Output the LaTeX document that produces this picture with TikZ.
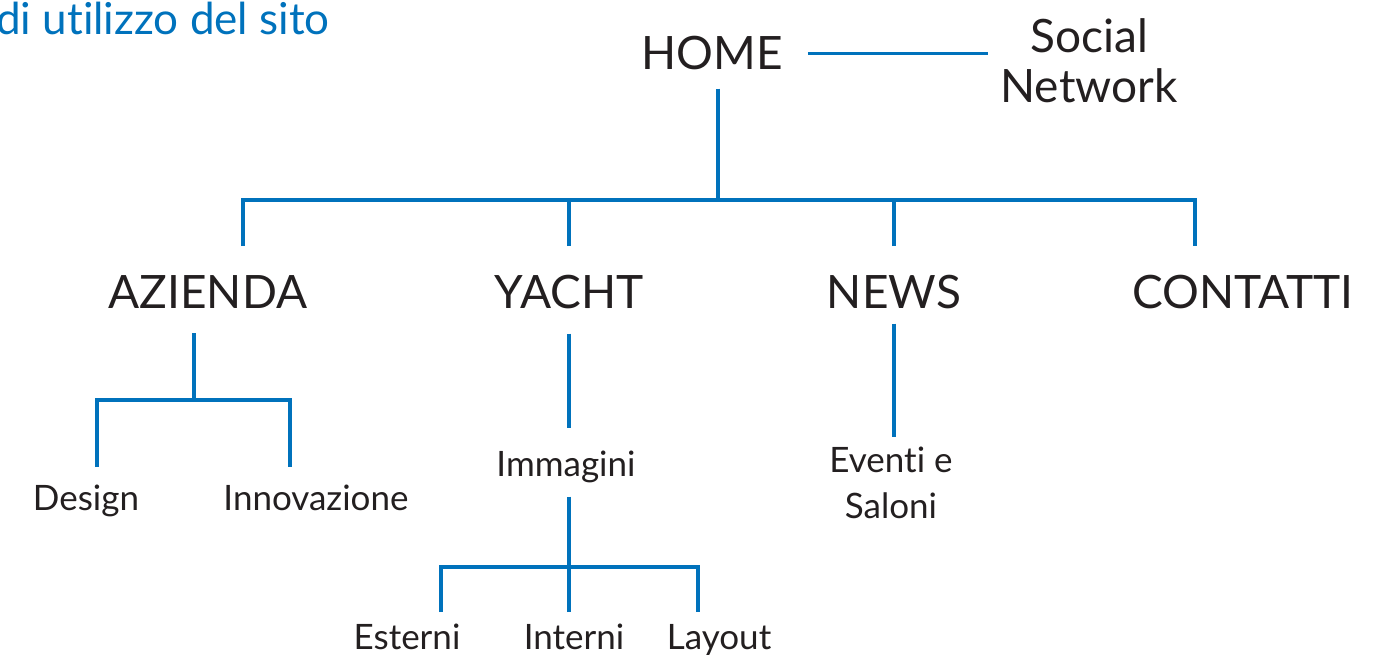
\documentclass[tikz,border=0pt]{standalone}
\usepackage{fontspec}
\setmainfont{Lato}[Ligatures={NoCommon,NoContextual}]
\definecolor{lk}{RGB}{0,114,188}
\definecolor{tx}{RGB}{35,31,32}
\begin{document}
\begin{tikzpicture}[x=1pt,y=-1pt,
  link/.style={draw=lk,line width=3.2pt},
  big/.style={text=tx,font=\fontsize{46}{49}\selectfont,inner sep=0pt,anchor=base},
  small/.style={text=tx,font=\fontsize{35}{46}\selectfont,inner sep=0pt,anchor=base},
  ttl/.style={text=lk,font=\fontsize{44}{48}\selectfont,inner sep=0pt,anchor=base west}]
\useasboundingbox (0,0) rectangle (1392,669);
% texts
\node[ttl] (title) at (-4,35) {di utilizzo del sito};
\node[big] (home) at (712,70) {HOME};
\node[big,align=center] (social) at (1089,102) {Social\\Network};
\node[big] (azienda) at (208,308) {AZIENDA};
\node[big] (yacht) at (569,308) {YACHT};
\node[big] (news) at (894,308) {NEWS};
\node[big] (contatti) at (1243,308) {CONTATTI};
\node[small] (design) at (86,510) {Design};
\node[small] (innov) at (316,510) {Innovazione};
\node[small] (immagini) at (566,476) {Immagini};
\node[small] (esterni) at (407,649) {Esterni};
\node[small] (interni) at (574,649) {Interni};
\node[small] (layout) at (719,649) {Layout};
\node[small,align=center] (eventi) at (891,518) {Eventi e\\Saloni};
% junctions
\coordinate (bar) at (718,200);
\coordinate (dA) at (243,246);
\coordinate (dY) at (569,246);
\coordinate (dN) at (894,246);
\coordinate (dC) at (1195,246);
\coordinate (aj) at (194,400);
\coordinate (dD) at (97,467);
\coordinate (dI) at (290,467);
\coordinate (yi) at (569,428);
\coordinate (ij) at (569,567);
\coordinate (dE) at (441,612);
\coordinate (dIn) at (569,612);
\coordinate (dL) at (698,612);
\coordinate (ne) at (894,437);
% connectors
\draw[link] ([xshift=25pt]home.east) -- ([xshift=-12pt]social.west |- home.east);
\draw[link] (bar |- home.south) ++(0,18) -- (bar);
\draw[link] (dA) -- (dA |- bar) -- (dC |- bar) -- (dC);
\draw[link] (dY) -- (dY |- bar);
\draw[link] (dN) -- (dN |- bar);
\draw[link] (aj |- azienda.south) ++(0,25) -- (aj);
\draw[link] (dD) -- (dD |- aj) -- (dI |- aj) -- (dI);
\draw[link] (yacht.south) ++(0,25) -- (yi);
\draw[link] (ij |- immagini.south) ++(0,14) -- (ij);
\draw[link] (dE) -- (dE |- ij) -- (dL |- ij) -- (dL);
\draw[link] (dIn) -- (ij);
\draw[link] (news.south) ++(0,15) -- (ne);
\end{tikzpicture}
\end{document}
